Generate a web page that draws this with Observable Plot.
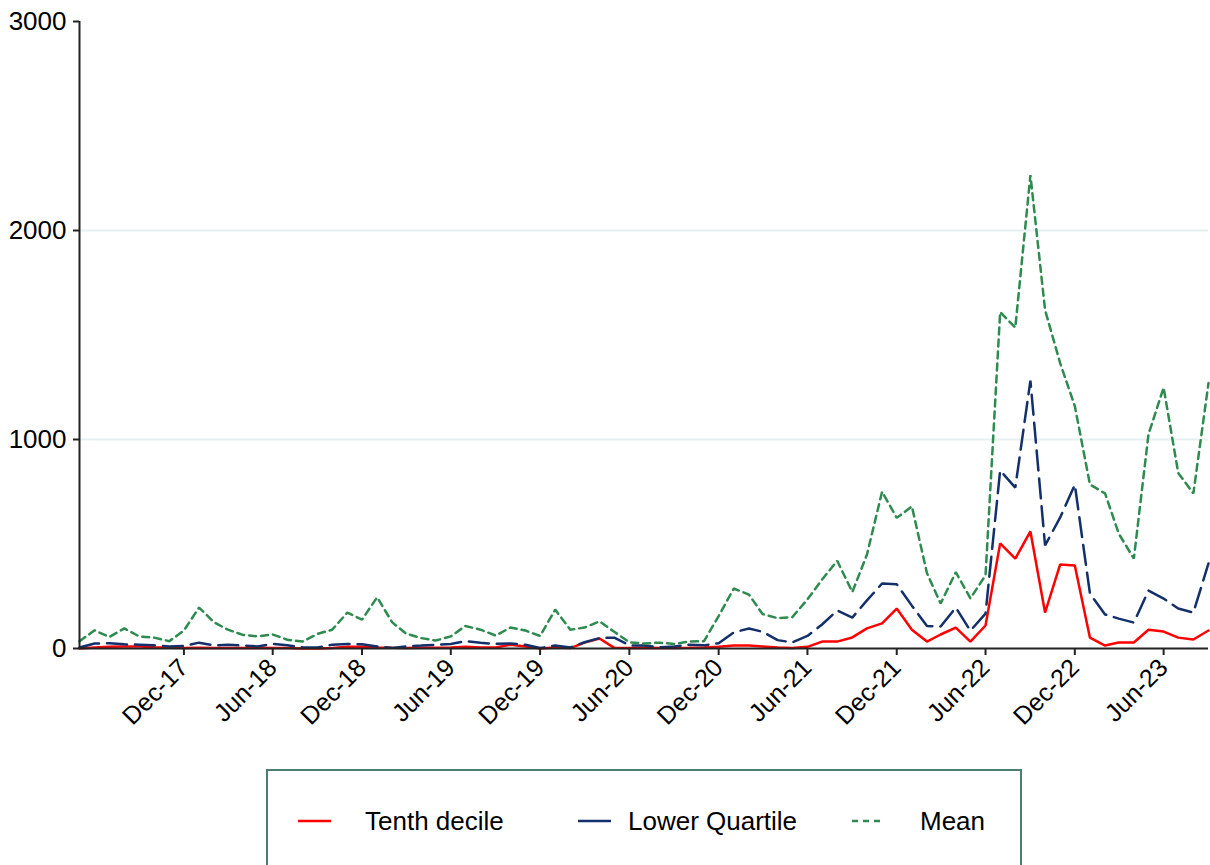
<!DOCTYPE html>
<html><head><meta charset="utf-8">
<script src="https://cdn.jsdelivr.net/npm/d3@7"></script>
<script src="https://cdn.jsdelivr.net/npm/@observablehq/plot@0.6"></script>
<style>
body{margin:0;background:#fff;font-family:Arial,"Liberation Sans",sans-serif;}
#wrap{position:relative;width:1210px;height:865px;overflow:hidden;background:#fff;}
#chart{position:absolute;left:0;top:0;}
#legend{position:absolute;left:266px;top:769px;width:752px;height:120px;border:2px solid #4d7c73;}
.sw{position:absolute;top:40px;}
.lt{position:absolute;top:35px;line-height:30px;font-size:26px;color:#000;white-space:nowrap;}
</style>
</head><body>
<div id="wrap"><div id="chart"></div><div id="legend"></div></div>
<script>
// Monthly observations, May-2017 .. Sep-2023
const startMonth = "2017-05";
const endMonth = "2023-09";
const tenthDecile = [0,5,8,10,10,6,3,2,3,2,2,2,3,2,2,0,0,2,8,8,5,
  3,2,3,3,5,8,5,5,18,10,0,5,2,28,48,3,2,3,2,2,3,5,8,
  14,14,10,5,2,8,33,33,53,96,120,191,90,33,67,100,33,
  110,503,430,560,172,402,397,52,14,29,29,90,81,52,43,86];
const lowerQuartile = [5,24,25,20,18,15,10,12,28,15,18,14,10,22,15,6,5,18,22,20,10,
  3,10,14,18,22,35,27,22,24,18,2,14,5,30,50,52,15,14,6,10,18,15,25,
  77,96,80,40,29,60,115,182,148,230,311,308,205,108,105,196,85,
  167,852,770,1282,493,627,784,263,163,143,124,277,239,191,172,407];
const meanVals = [35,87,55,96,57,52,35,86,196,125,90,65,58,67,42,33,70,90,172,138,245,
  125,72,50,38,58,108,90,62,100,86,60,186,90,100,130,80,30,24,28,22,33,35,155,
  287,258,165,145,150,235,330,420,270,450,750,625,680,360,215,365,240,
  350,1610,1535,2265,1620,1365,1160,785,742,550,430,1025,1248,840,742,1270];
const xTickMonths = ["2017-12","2018-06","2018-12","2019-06","2019-12","2020-06","2020-12","2021-06","2021-12","2022-06","2022-12","2023-06"];
const yTicks = [0,1000,2000,3000];
const gridValues = [1000,2000];
const seriesNames = ["Tenth decile","Lower Quartile","Mean"];
const seriesColors = ["#ff0000","#13306b","#2e8b4f"];
const seriesDash = [null,"20,8","7,5"];

const parse = d3.utcParse("%Y-%m");
const months = d3.utcMonth.range(parse(startMonth), d3.utcMonth.offset(parse(endMonth),1));
const xTicks = xTickMonths.map(parse);
const allSeries = [tenthDecile, lowerQuartile, meanVals];
const rows = (vals) => months.map((m,i)=>({date:m, value:vals[i]}));

const marks = [
  Plot.ruleY(gridValues, {stroke:"#e7f0f1", strokeWidth:2}),
];
allSeries.forEach((vals,k)=>{
  marks.push(Plot.line(rows(vals), {x:"date", y:"value", stroke:seriesColors[k], strokeWidth:2.5,
    strokeDasharray: seriesDash[k] || undefined, strokeLinejoin:"miter"}));
});
marks.push(
  Plot.ruleY([0], {stroke:"#222", strokeWidth:2}),
  Plot.ruleX([months[0]], {y1:0, y2:3000, stroke:"#222", strokeWidth:2}),
  Plot.axisY({ticks:yTicks, tickSize:6, tickPadding:7, fontSize:26, label:null, tickFormat:d=>String(d), stroke:"#222", strokeWidth:2}),
  Plot.axisX({ticks:xTicks, tickFormat:d3.utcFormat("%b-%y"), tickRotate:-45, tickSize:7, tickPadding:8, fontSize:25, label:null, stroke:"#222", strokeWidth:2})
);

const chart = Plot.plot({
  width:1210, height:760,
  marginLeft:79, marginRight:2, marginTop:21, marginBottom:112,
  style:{fontFamily:"Arial, 'Liberation Sans', sans-serif", color:"#000", background:"#fff"},
  x:{type:"utc", domain:[months[0], months[months.length-1]]},
  y:{domain:[0,3000]},
  marks
});
document.getElementById("chart").appendChild(chart);

// legend
const legend = document.getElementById("legend");
const swLeft = [30,310,584], txtLeft = [97,360,652];
seriesNames.forEach((name,k)=>{
  const s = document.createElementNS("http://www.w3.org/2000/svg","svg");
  s.setAttribute("width",34); s.setAttribute("height",20);
  s.setAttribute("class","sw"); s.style.left = swLeft[k]+"px";
  const l = document.createElementNS("http://www.w3.org/2000/svg","line");
  l.setAttribute("x1",0); l.setAttribute("x2",33); l.setAttribute("y1",10); l.setAttribute("y2",10);
  l.setAttribute("stroke",seriesColors[k]); l.setAttribute("stroke-width",2.5);
  if (k===2) l.setAttribute("stroke-dasharray","6,5");
  s.appendChild(l); legend.appendChild(s);
  const t = document.createElement("div"); t.className="lt"; t.style.left = txtLeft[k]+"px"; t.textContent = name;
  legend.appendChild(t);
});
</script>
</body></html>
